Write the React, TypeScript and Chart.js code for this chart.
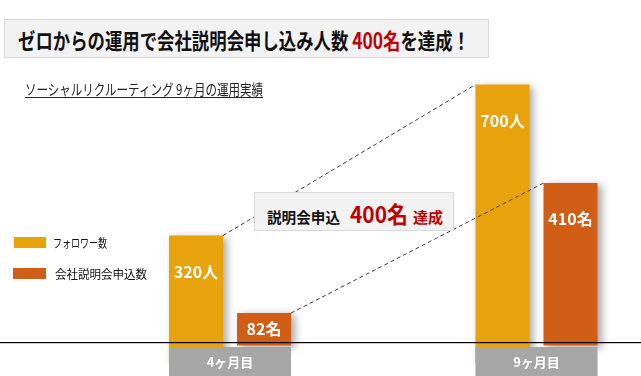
import React, { useEffect, useLayoutEffect, useRef } from "react";
import { Chart, registerables } from "chart.js";
Chart.register(...registerables);

const categories = ["4ヶ月目", "9ヶ月目"];
const seriesNames = ["フォロワー数", "会社説明会申込数"];
const followers = [320, 700];
const applicants = [82, 410];
const units = ["人", "名"];
const titleParts = ["ゼロからの運用で会社説明会申し込み人数 ", "400名", "を達成！"];
const subtitleText = "ソーシャルリクルーティング 9ヶ月の運用実績";
const calloutParts = ["説明会申込", "400名", "達成"];

const YELLOW = "#E8A20C";
const ORANGE = "#D05E16";
const GRAY = "#A6A6A6";
const RED = "#C00000";
const FONT = '"Noto Sans CJK JP", "Noto Sans", sans-serif';

function Fit({ width, style, children }: { width: number; style?: any; children: any }) {
  const ref = useRef<HTMLSpanElement>(null);
  useLayoutEffect(() => {
    const el = ref.current;
    if (!el) return;
    el.style.transform = "none";
    const w = el.getBoundingClientRect().width;
    if (w > 0) el.style.transform = `scaleX(${width / w})`;
  });
  return (
    <span
      ref={ref}
      style={{ display: "inline-block", whiteSpace: "pre", transformOrigin: "left center", fontFamily: FONT, ...style }}
    >
      {children}
    </span>
  );
}

const decor = {
  id: "decor",
  beforeDatasetsDraw(chart: any) {
    const ctx = chart.ctx;
    ctx.save();
    ctx.shadowColor = "rgba(0,0,0,0.35)";
    ctx.shadowBlur = 8;
    ctx.shadowOffsetX = 4;
    ctx.shadowOffsetY = 2;
  },
  afterDatasetsDraw(chart: any) {
    const ctx = chart.ctx;
    ctx.restore();
    const area = chart.chartArea;
    const base = area.bottom;
    const m0 = chart.getDatasetMeta(0).data as any[];
    const m1 = chart.getDatasetMeta(1).data as any[];

    // dashed connectors
    ctx.save();
    ctx.setLineDash([4, 3]);
    ctx.strokeStyle = "#3a3a3a";
    ctx.lineWidth = 1;
    [m0, m1].forEach((els) => {
      const a = els[0], b = els[1];
      ctx.beginPath();
      ctx.moveTo(a.x + a.width / 2, a.y);
      ctx.lineTo(b.x - b.width / 2, b.y);
      ctx.stroke();
    });
    ctx.restore();

    // bar labels
    ctx.save();
    ctx.fillStyle = "#ffffff";
    ctx.font = `bold 16px ${FONT}`;
    ctx.textAlign = "center";
    ctx.textBaseline = "middle";
    [m0, m1].forEach((els, d) => {
      const vals = d === 0 ? followers : applicants;
      els.forEach((el: any, i: number) => {
        const cy = Math.min(el.y + 35, (el.y + base) / 2);
        ctx.fillText(`${vals[i]}${units[d]}`, el.x, cy + 1);
      });
    });
    ctx.restore();

    // axis line
    ctx.save();
    ctx.fillStyle = "#000";
    ctx.fillRect(0, base, chart.width, 1.2);
    ctx.restore();

    // category boxes
    ctx.save();
    categories.forEach((c, i) => {
      const a = m0[i], b = m1[i];
      const left = a.x - a.width / 2;
      const right = b.x + b.width / 2;
      ctx.fillStyle = GRAY;
      ctx.fillRect(left, base + 5, right - left, chart.height - base - 5);
      ctx.fillStyle = "#fff";
      ctx.font = `bold 13px ${FONT}`;
      ctx.textAlign = "center";
      ctx.textBaseline = "middle";
      ctx.fillText(c, (left + right) / 2, base + 20);
    });
    ctx.restore();
  },
};

export default function App() {
  const canvasRef = useRef<HTMLCanvasElement>(null);
  useEffect(() => {
    const chart = new Chart(canvasRef.current as HTMLCanvasElement, {
      type: "bar",
      data: {
        labels: categories,
        datasets: [
          {
            label: seriesNames[0],
            data: followers,
            backgroundColor: YELLOW,
            yAxisID: "y",
            barPercentage: 0.794,
            categoryPercentage: 0.444,
            clip: false as any,
          },
          {
            label: seriesNames[1],
            data: applicants,
            backgroundColor: ORANGE,
            yAxisID: "y2",
            barPercentage: 0.794,
            categoryPercentage: 0.444,
            clip: false as any,
          },
        ],
      },
      options: {
        animation: false,
        responsive: true,
        maintainAspectRatio: false,
        layout: { padding: { left: 230, right: 104.5, top: 0, bottom: 34 } },
        scales: {
          x: { display: false, offset: false, grid: { offset: false } },
          y: { display: false, min: 52, max: 913 },
          y2: { display: false, min: 9, max: 872, position: "right" },
        },
        plugins: { legend: { display: false }, tooltip: { enabled: false } },
      },
      plugins: [decor],
    });
    return () => chart.destroy();
  }, []);

  return (
    <div style={{ position: "fixed", left: 0, top: 0, width: 641, height: 376, overflow: "hidden", background: "#fff" }}>
      <div style={{ position: "absolute", left: 0, top: 0, width: 641, height: 376 }}>
        <canvas ref={canvasRef} />
      </div>

      {/* title */}
      <div
        style={{
          position: "absolute", left: 4, top: 19, width: 485, height: 39, boxSizing: "border-box",
          background: "#F2F2F2", border: "1px solid #D9D9D9", display: "flex", alignItems: "center", paddingLeft: 13,
        }}
      >
        <Fit width={452} style={{ fontSize: 22, fontWeight: 700, color: "#111", lineHeight: "26px" }}>
          {titleParts[0]}
          <span style={{ color: RED }}>{titleParts[1]}</span>
          {titleParts[2]}
        </Fit>
      </div>

      {/* subtitle */}
      <div style={{ position: "absolute", left: 25, top: 79 }}>
        <Fit width={238} style={{ fontSize: 15, color: "#222", lineHeight: "20px", textDecoration: "underline", textUnderlineOffset: 2 }}>
          {subtitleText}
        </Fit>
      </div>

      {/* legend */}
      <div style={{ position: "absolute", left: 14, top: 237, width: 32, height: 11, background: YELLOW }} />
      <div style={{ position: "absolute", left: 53, top: 234 }}>
        <Fit width={54} style={{ fontSize: 12, color: "#111", lineHeight: "18px" }}>{seriesNames[0]}</Fit>
      </div>
      <div style={{ position: "absolute", left: 13, top: 268, width: 33, height: 11, background: ORANGE }} />
      <div style={{ position: "absolute", left: 55, top: 265 }}>
        <Fit width={92} style={{ fontSize: 12, color: "#111", lineHeight: "18px" }}>{seriesNames[1]}</Fit>
      </div>

      {/* callout */}
      <div
        style={{
          position: "absolute", left: 254, top: 192, width: 200, height: 39, boxSizing: "border-box",
          background: "#F2F2F2", border: "1px solid #D9D9D9",
        }}
      />
      <div style={{ position: "absolute", left: 267, top: 196, display: "flex", alignItems: "baseline", height: 30 }}>
        <div style={{ width: 73 }}>
          <Fit width={73} style={{ fontSize: 15, fontWeight: 700, color: "#111" }}>{calloutParts[0]}</Fit>
        </div>
        <div style={{ width: 58, marginLeft: 10 }}>
          <Fit width={58} style={{ fontSize: 23, fontWeight: 700, color: RED }}>{calloutParts[1]}</Fit>
        </div>
        <div style={{ width: 30, marginLeft: 5 }}>
          <Fit width={30} style={{ fontSize: 15, fontWeight: 700, color: RED }}>{calloutParts[2]}</Fit>
        </div>
      </div>
    </div>
  );
}
